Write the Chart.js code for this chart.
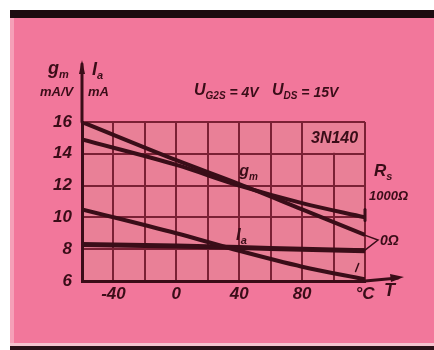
<!DOCTYPE html>
<html><head><meta charset="utf-8">
<script src="https://cdn.jsdelivr.net/npm/chart.js@4"></script>
<style>html,body{margin:0;padding:0;background:#fff;overflow:hidden}canvas{display:block;filter:blur(0.4px)}</style>
</head><body>
<canvas id="c" width="434" height="350"></canvas>
<script>
// ---- data ----
const temperatures = [-60, 0, 40, 80, 120];          // T, °C
const gmRs0      = [16.0, 13.6, 12.1, 10.5, 8.9];     // g_m, mA/V, Rs = 0 Ω
const gmRs1000   = [14.9, 13.3, 12.0, 10.9, 10.0];    // g_m, mA/V, Rs = 1000 Ω
const iaRs1000   = [10.5, 9.0, 7.9, 6.9, 6.1];        // I_a, mA
const iaRs0      = [8.3, 8.2, 8.1, 8.0, 7.9];         // I_a, mA
const xTickValues = [-40, 0, 40, 80];
const xUnitLabel = '°C';
const yTickValues = [6, 8, 10, 12, 14, 16];

const INK = '#3a0d18';
const GRID = '#7a2135';
const FONT = 'Liberation Sans';

function pts(ys){ return temperatures.map((t,i)=>({x:t, y:ys[i]})); }

function txt(ctx, s, x, y, size, align){
  ctx.font = 'italic bold ' + size + 'px "' + FONT + '"';
  ctx.textAlign = align || 'left';
  ctx.textBaseline = 'middle';
  ctx.fillText(s, x, y);
  return ctx.measureText(s).width;
}
function subTxt(ctx, main, sub, x, y, size){
  let w = txt(ctx, main, x, y, size);
  let w2 = txt(ctx, sub, x + w, y + size*0.35, Math.round(size*0.62));
  return w + w2;
}

const deco = {
  id: 'deco',
  beforeDraw(chart){
    const c = chart.ctx, a = chart.chartArea;
    c.save();
    c.fillStyle = '#ffffff'; c.fillRect(0,0,434,350);
    c.fillStyle = '#f2779b'; c.fillRect(10,17,424,328);
    c.fillStyle = '#f5a0b8'; c.fillRect(10,17,4,328);
    c.fillStyle = '#1c0b10'; c.fillRect(10,10,424,8);
    c.fillStyle = '#f6c3cf'; c.fillRect(10,343,424,3);
    c.fillStyle = '#2a1118'; c.fillRect(10,346,424,4);
    c.fillStyle = '#e98097'; c.fillRect(a.left, a.top, a.right-a.left, a.bottom-a.top);
    c.restore();
  },
  beforeDatasetsDraw(chart){
    const c = chart.ctx, xs = chart.scales.x, ys = chart.scales.y;
    const x0 = xs.getPixelForValue(80), x1 = xs.getPixelForValue(120);
    const y0 = ys.getPixelForValue(16), y1 = ys.getPixelForValue(14);
    c.save();
    c.fillStyle = '#e98097'; c.fillRect(x0+1, y0+1, x1-x0-2, y1-y0-2);
    c.fillStyle = INK;
    txt(c, '3N140', (x0+x1)/2+1, (y0+y1)/2+1, 16, 'center');
    c.restore();
  },
  afterDraw(chart){
    const c = chart.ctx, a = chart.chartArea, xs = chart.scales.x, ys = chart.scales.y;
    c.save();
    c.strokeStyle = INK; c.fillStyle = INK; c.lineCap = 'round';
    // axis arrows
    c.lineWidth = 3;
    c.beginPath(); c.moveTo(a.left, a.top); c.lineTo(a.left, 64); c.stroke();
    c.beginPath(); c.moveTo(a.left-3, 74); c.lineTo(a.left, 60); c.lineTo(a.left+3, 74); c.closePath(); c.fill();
    c.beginPath(); c.moveTo(a.right, a.bottom); c.lineTo(398, a.bottom-3); c.stroke();
    c.beginPath(); c.moveTo(390, a.bottom-7); c.lineTo(404, a.bottom-4); c.lineTo(391, a.bottom+1); c.closePath(); c.fill();
    // axis titles
    subTxt(c, 'g', 'm', 48, 69, 18);
    txt(c, 'mA/V', 40, 92, 13);
    subTxt(c, 'I', 'a', 92, 70, 18);
    txt(c, 'mA', 88, 92, 13);
    txt(c, 'T', 384, 291, 18);
    // conditions
    let x = 194;
    x += subTxt(c, 'U', 'G2S', x, 91, 16);
    txt(c, ' = 4V', x, 93, 14);
    x = 272;
    x += subTxt(c, 'U', 'DS', x, 91, 16);
    txt(c, ' = 15V', x, 93, 14);
    // curve labels
    subTxt(c, 'g', 'm', xs.getPixelForValue(40), ys.getPixelForValue(12.9), 16);
    subTxt(c, 'I', 'a', xs.getPixelForValue(38), ys.getPixelForValue(8.9), 17);
    subTxt(c, 'R', 's', 374, 171, 17);
    txt(c, '1000Ω', 369, 196, 13);
    txt(c, '0Ω', 380, 241, 14);
    // leaders
    c.lineWidth = 1.5;
    const xe = xs.getPixelForValue(120);
    c.beginPath();
    c.moveTo(xe-1, ys.getPixelForValue(gmRs0[4]));
    c.lineTo(xe+13, 240);
    c.lineTo(xe-1, ys.getPixelForValue(iaRs0[4]));
    c.stroke();
    c.lineWidth = 3;
    c.beginPath(); c.moveTo(xe, ys.getPixelForValue(gmRs1000[4])-8); c.lineTo(xe, ys.getPixelForValue(gmRs1000[4])+3); c.stroke();
    c.lineWidth = 1.5;
    c.beginPath(); c.moveTo(xs.getPixelForValue(114), ys.getPixelForValue(6.6)); c.lineTo(xs.getPixelForValue(116), ys.getPixelForValue(7.1)); c.stroke();
    c.restore();
  }
};

const ds = (label, data, w) => ({label, data: pts(data), borderColor: INK, borderWidth: w,
  pointRadius: 0, fill: false, tension: 0.3, cubicInterpolationMode: 'monotone'});

new Chart(document.getElementById('c'), {
  type: 'line',
  data: { datasets: [
    ds('g_m, Rs = 0 Ω', gmRs0, 4),
    ds('g_m, Rs = 1000 Ω', gmRs1000, 4),
    ds('I_a, Rs = 1000 Ω', iaRs1000, 4),
    ds('I_a, Rs = 0 Ω', iaRs0, 5)
  ]},
  options: {
    responsive: false, animation: false, devicePixelRatio: 1,
    layout: { padding: { left: 0, top: 122, right: 69, bottom: 39 } },
    plugins: { legend: { display: false }, tooltip: { enabled: false } },
    scales: {
      x: {
        type: 'linear', min: -60, max: 120,
        afterFit(s){ s.height = 30; },
        afterBuildTicks(s){ s.ticks = [-60,-40,-20,0,20,40,60,80,100,120].map(v=>({value:v})); },
        grid: { color: GRID, lineWidth: 2, drawTicks: false },
        border: { color: INK, width: 3 },
        ticks: {
          autoSkip: false, maxRotation: 0, padding: 3, color: INK,
          font: { family: FONT, size: 17, style: 'italic', weight: 'bold' },
          callback(v){ return xTickValues.includes(v) ? String(v) : (v === 120 ? xUnitLabel : ''); }
        }
      },
      y: {
        type: 'linear', min: 6, max: 16,
        afterFit(s){ s.width = 82; },
        afterBuildTicks(s){ s.ticks = yTickValues.map(v=>({value:v})); },
        grid: { color: GRID, lineWidth: 2, drawTicks: false },
        border: { color: INK, width: 3 },
        ticks: {
          autoSkip: false, padding: 10, color: INK,
          font: { family: FONT, size: 17, style: 'italic', weight: 'bold' }
        }
      }
    }
  },
  plugins: [deco]
});
</script>
</body></html>
